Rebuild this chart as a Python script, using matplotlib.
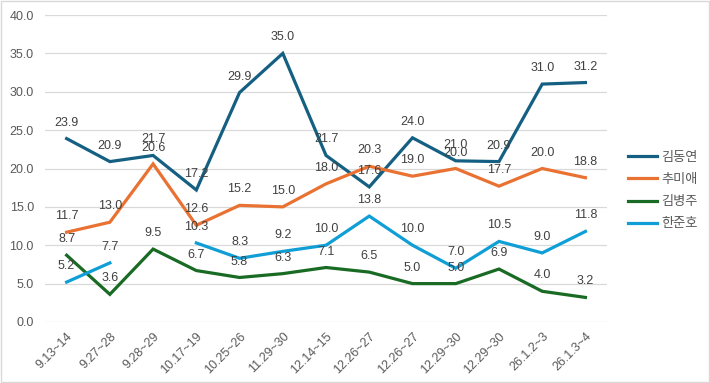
import matplotlib
matplotlib.use("Agg")
import matplotlib.pyplot as plt
import numpy as np
from matplotlib.patches import Rectangle

plt.rcParams['font.family'] = ['Liberation Sans', 'Noto Sans CJK KR', 'DejaVu Sans']

categories = ["9.13~14", "9.27~28", "9.28~29", "10.17~19", "10.25~26", "11.29~30",
              "12.14~15", "12.26~27", "12.26~27", "12.29~30", "12.29~30", "26.1.2~3", "26.1.3~4"]
kim_dy = [23.9, 20.9, 21.7, 17.2, 29.9, 35.0, 21.7, 17.6, 24.0, 21.0, 20.9, 31.0, 31.2]
choo = [11.7, 13.0, 20.6, 12.6, 15.2, 15.0, 18.0, 20.3, 19.0, 20.0, 17.7, 20.0, 18.8]
kim_bj = [8.7, 3.6, 9.5, 6.7, 5.8, 6.3, 7.1, 6.5, 5.0, 5.0, 6.9, 4.0, 3.2]
han = [5.2, 7.7, np.nan, 10.3, 8.3, 9.2, 10.0, 13.8, 10.0, 7.0, 10.5, 9.0, 11.8]

series = [("김동연", kim_dy, "#156082"), ("추미애", choo, "#E97132"),
          ("김병주", kim_bj, "#196B24"), ("한준호", han, "#0F9ED5")]

fig = plt.figure(figsize=(7.1, 3.83), dpi=100)
ax = fig.add_axes([0.0634, 0.1593, 0.7916, 0.8015])
x = np.arange(len(categories))
txtc = "#595959"
for name, vals, col in series:
    ax.plot(x, vals, color=col, lw=2.3, label=name, solid_joinstyle='miter')
    for xi, v in zip(x, vals):
        if not np.isnan(v):
            ax.annotate(f"{v:.1f}", (xi, v), xytext=(0, 11.5), textcoords='offset points',
                        ha='center', va='center', fontsize=9, color="#404040")

ax.set_xlim(-0.5, len(categories) - 0.5)
ax.set_ylim(0, 40)
ax.set_yticks(np.arange(0, 40.1, 5))
ax.set_yticklabels([f"{v:.1f}" for v in np.arange(0, 40.1, 5)])
ax.set_xticks(x)
ax.set_xticklabels(categories, rotation=45, ha='right', rotation_mode='anchor')
ax.tick_params(axis='both', length=0, labelsize=9, labelcolor=txtc)
ax.tick_params(axis='x', pad=6)
ax.tick_params(axis='y', pad=8)
ax.grid(axis='y', color='#d9d9d9', lw=0.9)
ax.set_axisbelow(True)
for s in ax.spines.values():
    s.set_visible(False)

leg = fig.legend(loc='upper left', bbox_to_anchor=(0.868, 0.635), frameon=False,
                 fontsize=9.5, handlelength=2.2, handletextpad=0.3, labelspacing=0.75)
for t in leg.get_texts():
    t.set_color(txtc)

fig.patches.append(Rectangle((0.001, 0.002), 0.997, 0.995, transform=fig.transFigure,
                             fill=False, edgecolor='#d9d9d9', lw=1))
fig.savefig("out.png", dpi=100)
